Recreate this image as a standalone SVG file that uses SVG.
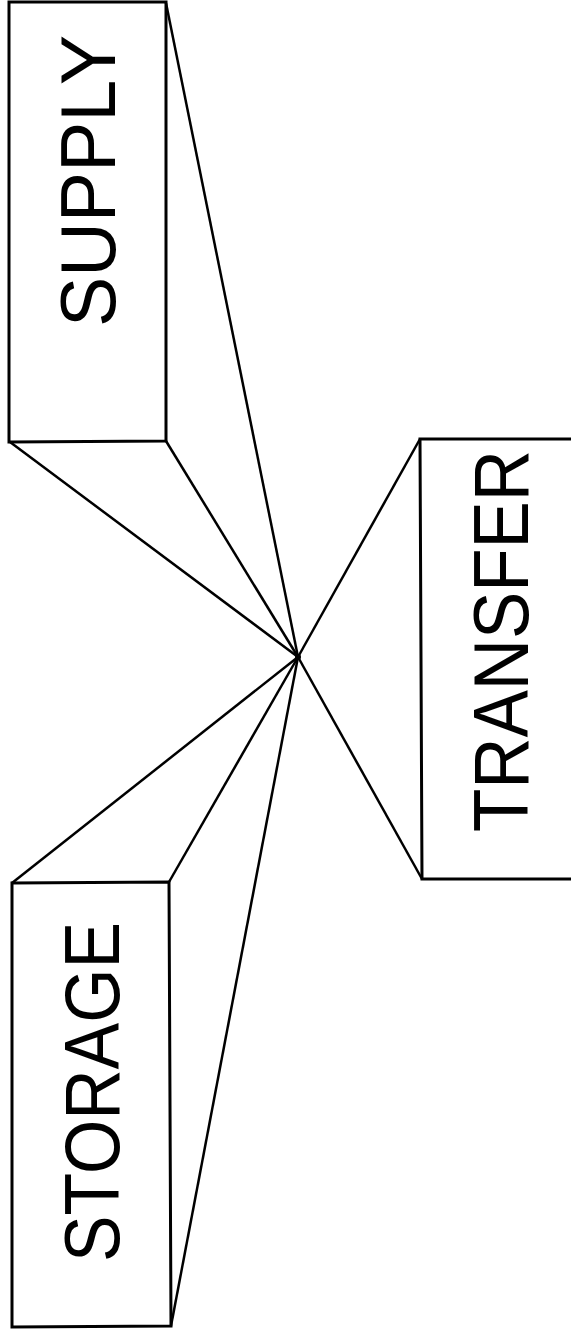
<svg xmlns="http://www.w3.org/2000/svg" width="571" height="1330" viewBox="0 0 571 1330">
<style>
.box{fill:none;stroke:#000;stroke-width:3}
.ln{stroke:#000;stroke-width:2.5;fill:none}
.lbl{font-family:"Liberation Sans",Arial,sans-serif;font-size:77px;fill:#000}
</style>
<rect width="571" height="1330" fill="#fff"/>
<g id="connectors">
<line class="ln" x1="166" y1="3" x2="298" y2="657"/>
<line class="ln" x1="10" y1="442" x2="298" y2="657"/>
<line class="ln" x1="166" y1="441" x2="298" y2="657"/>
<line class="ln" x1="420" y1="439" x2="298" y2="657"/>
<line class="ln" x1="422" y1="879" x2="298" y2="657"/>
<line class="ln" x1="12" y1="883" x2="298" y2="657"/>
<line class="ln" x1="169" y1="882" x2="298" y2="657"/>
<line class="ln" x1="171" y1="1326" x2="298" y2="657"/>
<circle cx="298" cy="657" r="3"/>
</g>
<g id="supply">
<path class="box" d="M9,2 L166,2 L166,441 L9,442 Z"/>
<text class="lbl" transform="translate(115,327) rotate(-90)" textLength="292" lengthAdjust="spacingAndGlyphs">SUPPLY</text>
</g>
<g id="transfer">
<path class="box" d="M575,439 L420,439 L422,879 L575,879"/>
<text class="lbl" transform="translate(528,832) rotate(-90)" textLength="382" lengthAdjust="spacingAndGlyphs">TRANSFER</text>
</g>
<g id="storage">
<path class="box" d="M12,883 L169,882 L171,1326 L12,1327 Z"/>
<text class="lbl" transform="translate(119,1262) rotate(-90)" textLength="340" lengthAdjust="spacingAndGlyphs">STORAGE</text>
</g>
</svg>
